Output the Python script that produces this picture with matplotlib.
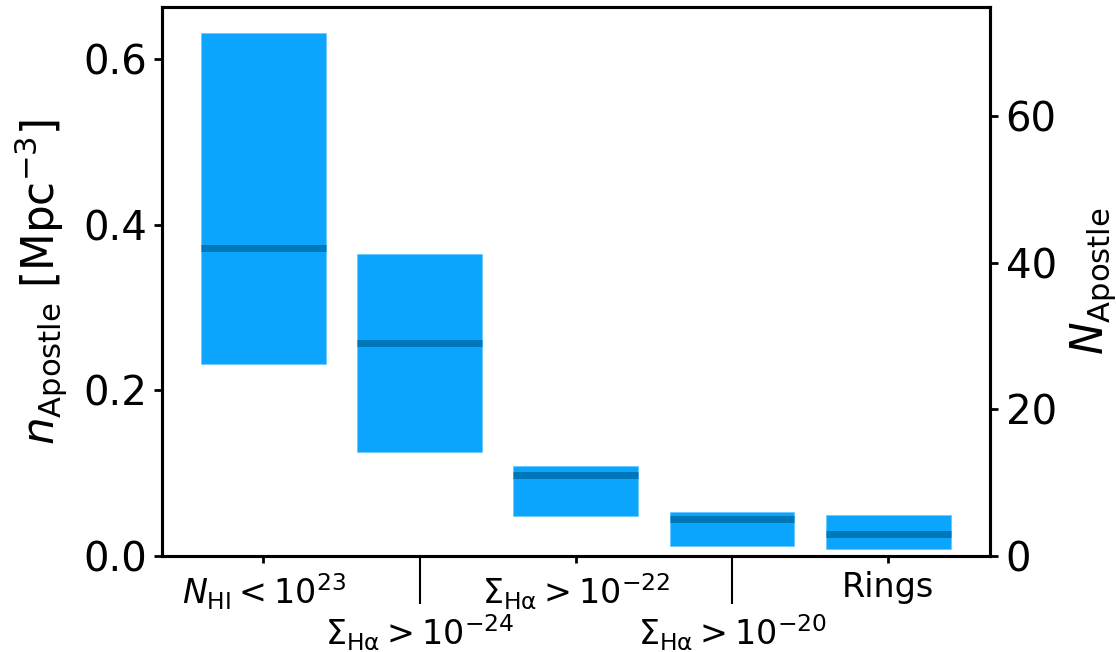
import matplotlib
matplotlib.use("Agg")
import matplotlib.pyplot as plt
import numpy as np

# selection cuts along the x axis
labels = [r"$N_{\rm HI} < 10^{23}$",
          r"$\Sigma_{\rm H\alpha} > 10^{-24}$",
          r"$\Sigma_{\rm H\alpha} > 10^{-22}$",
          r"$\Sigma_{\rm H\alpha} > 10^{-20}$",
          "Rings"]

# number density of Apostle analogues [Mpc^-3]: range and median
n_lo = [0.232, 0.126, 0.0483, 0.0125, 0.0089]
n_hi = [0.632, 0.365, 0.1084, 0.0532, 0.0491]
n_med = [0.372, 0.257, 0.0975, 0.0443, 0.0266]

# volume used to turn densities into counts [Mpc^3]
volume = 112.9

bar_color = "#0ba5fe"
med_color = "#0077b8"

fig = plt.figure(figsize=(11.17, 6.52), dpi=100)
ax = fig.add_axes([0.145, 0.147, 0.741, 0.842])

x = np.arange(len(labels))
width = 0.8
lo = np.array(n_lo)
hi = np.array(n_hi)
ax.bar(x, hi - lo, bottom=lo, width=width, color=bar_color,
       edgecolor="#6cc9ff", linewidth=0.6)
ax.hlines(n_med, x - width / 2, x + width / 2, colors=med_color, lw=5)

ax.set_xlim(-0.65, 4.65)
ax.set_ylim(0, 0.6627)
ax.set_yticks([0.0, 0.2, 0.4, 0.6])

# alternate the labels between two rows so they don't collide
ax.set_xticks(x[::2])
ax.set_xticklabels(labels[::2])
ax.set_xticks(x[1::2], minor=True)
ax.set_xticklabels(labels[1::2], minor=True)
ax.tick_params(axis="x", which="major", length=5, width=2, pad=6, labelsize=24)
ax.tick_params(axis="x", which="minor", length=34.5, width=1.5, pad=6, labelsize=24)
ax.tick_params(axis="y", length=5.5, width=2, pad=5, labelsize=29)
ax.set_ylabel(r"$n_{\rm Apostle}$ [Mpc$^{-3}$]", fontsize=31.5, labelpad=10)

for s in ax.spines.values():
    s.set_linewidth(2.2)

ax2 = ax.twinx()
ax2.set_ylim(0, 0.6627 * volume)
ax2.set_yticks([0, 20, 40, 60])
ax2.tick_params(axis="y", length=5.5, width=2, pad=6, labelsize=29)
ax2.set_ylabel(r"$N_{\rm Apostle}$", fontsize=31.5, labelpad=8)
for s in ax2.spines.values():
    s.set_linewidth(2.2)

fig.savefig("out.png", dpi=100)
